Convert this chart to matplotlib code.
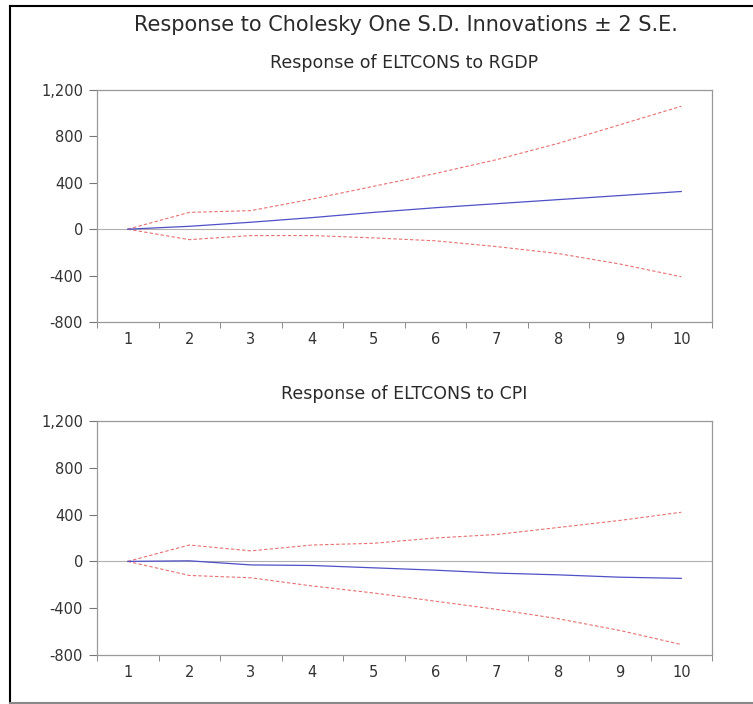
import matplotlib.pyplot as plt

plt.rcParams['font.family'] = ['DejaVu Sans']

# periods 1..10
periods = [1, 2, 3, 4, 5, 6, 7, 8, 9, 10]

# response of ELTCONS to RGDP
rgdp_resp = [0, 25, 60, 100, 145, 185, 220, 255, 290, 325]
rgdp_upper = [0, 145, 160, 260, 370, 480, 600, 740, 900, 1060]
rgdp_lower = [0, -90, -55, -55, -75, -100, -150, -210, -300, -410]

# response of ELTCONS to CPI
cpi_resp = [0, 5, -30, -35, -55, -75, -100, -115, -135, -145]
cpi_upper = [0, 140, 90, 140, 155, 200, 230, 290, 350, 420]
cpi_lower = [0, -120, -140, -210, -270, -340, -410, -490, -590, -710]

yticks = [-800, -400, 0, 400, 800, 1200]
ytick_labels = ["-800", "-400", "0", "400", "800", "1,200"]

W, H = 753, 704
fig = plt.figure(figsize=(W / 100, H / 100), dpi=100)

# outer frame
fig.add_artist(plt.Line2D([10 / W, 10 / W], [1 - 6 / H, 1 - 703 / H], color="black", lw=1.5))
fig.add_artist(plt.Line2D([10 / W, 1], [1 - 6 / H, 1 - 6 / H], color="black", lw=1.5))
fig.add_artist(plt.Line2D([10 / W, 1], [1 - 703 / H, 1 - 703 / H], color="#888888", lw=1.5))

fig.text(406 / W, 1 - 25 / H, "Response to Cholesky One S.D. Innovations \u00b1 2 S.E.",
         ha="center", va="center", fontsize=15, color="#2a2a2a")


def panel(top, bottom, title, title_y, resp, upper, lower):
    left, right = 97, 712
    ax = fig.add_axes([left / W, 1 - bottom / H, (right - left) / W, (bottom - top) / H])
    ax.plot(periods, upper, color="#e87070", lw=0.8, ls=(0, (3, 2)))
    ax.plot(periods, lower, color="#e87070", lw=0.8, ls=(0, (3, 2)))
    ax.plot(periods, resp, color="#5050c8", lw=0.9)
    ax.axhline(0, color="#b0b0b0", lw=0.8, zorder=0)
    ax.set_xlim(0.5, 10.5)
    ax.set_ylim(-800, 1200)
    ax.set_yticks(yticks)
    ax.set_yticklabels(ytick_labels)
    ax.set_xticks(periods)
    ax.set_xticklabels([str(p) for p in periods])
    ax.set_xticks([p + 0.5 for p in periods[:-1]] + [0.5, 10.5], minor=True)
    ax.tick_params(axis="x", which="major", length=0, pad=7, labelsize=10.5, colors="#333333")
    ax.tick_params(axis="x", which="minor", length=4, direction="out", color="#777777")
    ax.tick_params(axis="y", length=6, pad=4, direction="out", labelsize=10.5,
                   colors="#333333", color="#777777")
    for s in ax.spines.values():
        s.set_color("#999999")
        s.set_linewidth(0.9)
    fig.text(404 / W, 1 - title_y / H, title, ha="center", va="center",
             fontsize=12.5, color="#2a2a2a")
    return ax


panel(90, 322, "Response of ELTCONS to RGDP", 63, rgdp_resp, rgdp_upper, rgdp_lower)
panel(421, 655, "Response of ELTCONS to CPI", 394, cpi_resp, cpi_upper, cpi_lower)

fig.savefig("out.png", dpi=100)
